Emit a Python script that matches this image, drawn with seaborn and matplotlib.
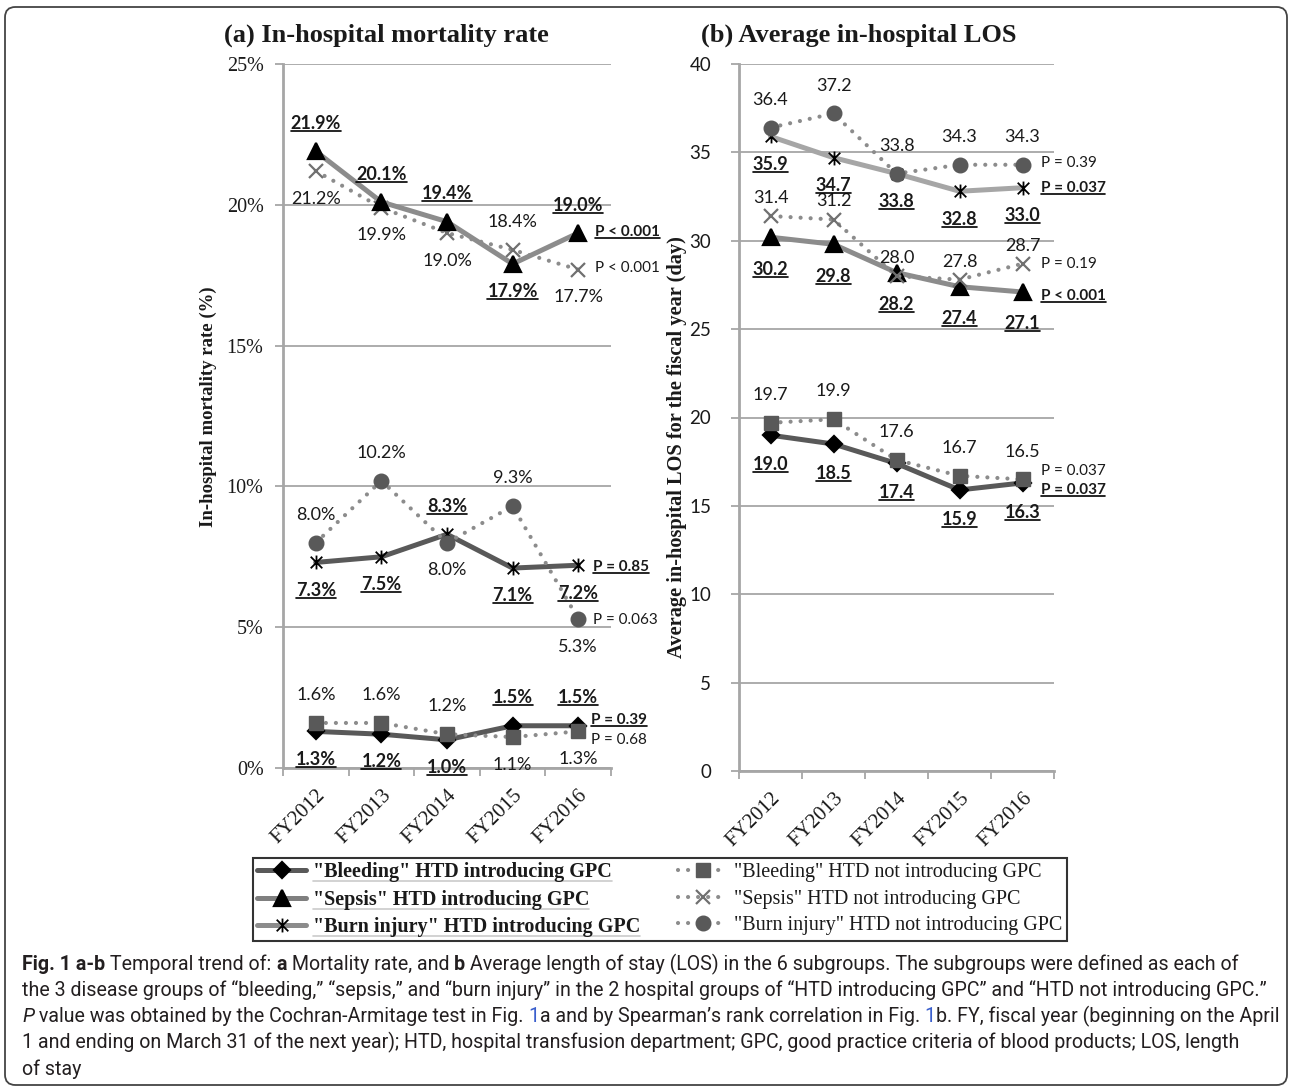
import numpy as np
import seaborn as sns
import matplotlib.pyplot as plt
from matplotlib.path import Path
from matplotlib.lines import Line2D
from matplotlib.patches import FancyBboxPatch
from matplotlib.ticker import FuncFormatter
from matplotlib import font_manager

years = ["FY2012", "FY2013", "FY2014", "FY2015", "FY2016"]

# (a) in-hospital mortality rate (%)
mort_bleed_gpc = [1.3, 1.2, 1.0, 1.5, 1.5]
mort_bleed_non = [1.6, 1.6, 1.2, 1.1, 1.3]
mort_sepsis_gpc = [21.9, 20.1, 19.4, 17.9, 19.0]
mort_sepsis_non = [21.2, 19.9, 19.0, 18.4, 17.7]
mort_burn_gpc = [7.3, 7.5, 8.3, 7.1, 7.2]
mort_burn_non = [8.0, 10.2, 8.0, 9.3, 5.3]

# (b) average in-hospital LOS (days)
los_bleed_gpc = [19.0, 18.5, 17.4, 15.9, 16.3]
los_bleed_non = [19.7, 19.9, 17.6, 16.7, 16.5]
los_sepsis_gpc = [30.2, 29.8, 28.2, 27.4, 27.1]
los_sepsis_non = [31.4, 31.2, 28.0, 27.8, 28.7]
los_burn_gpc = [35.9, 34.7, 33.8, 32.8, 33.0]
los_burn_non = [36.4, 37.2, 33.8, 34.3, 34.3]

# p values
p_mort = ["P = 0.39", "P = 0.68", "P < 0.001", "P < 0.001", "P = 0.85", "P = 0.063"]
p_los = ["P = 0.037", "P = 0.037", "P < 0.001", "P = 0.19", "P = 0.037", "P = 0.39"]

legend_labels = ['"Bleeding" HTD introducing GPC', '"Sepsis" HTD introducing GPC',
                 '"Burn injury" HTD introducing GPC', '"Bleeding" HTD not introducing GPC',
                 '"Sepsis" HTD not introducing GPC', '"Burn injury" HTD not introducing GPC']

W, H = 1292, 1090
SERIF = "Liberation Serif"
SANS = "Lato"
GRID = "#a6a6a6"
TXT = "#1a1a1a"

sns.set_style("white")
plt.rcParams["font.family"] = [SERIF, "DejaVu Serif"]

star = Path([(-1, -1), (1, 1), (-1, 1), (1, -1), (0, -1.2), (0, 1.2)],
            [Path.MOVETO, Path.LINETO, Path.MOVETO, Path.LINETO, Path.MOVETO, Path.LINETO])

def solid(lc, m, ms, mew=1.6):
    return dict(color=lc, linewidth=3.6, linestyle="-", marker=m, markersize=ms,
                markerfacecolor="black", markeredgecolor="black", markeredgewidth=mew,
                solid_joinstyle="round")

def dotted(m, mc, ms, mew=1.0):
    return dict(color="#8c8c8c", linewidth=3.0, linestyle=(0, (0.01, 2.4)),
                dash_capstyle="round", marker=m, markersize=ms, markerfacecolor=mc,
                markeredgecolor=mc, markeredgewidth=mew)

st_bleed_gpc = solid("#595959", "D", 8.5)
st_sepsis_gpc_a = solid("#8c8c8c", "^", 11)
st_burn_gpc_a = solid("#595959", star, 10, 1.3)
st_sepsis_gpc_b = solid("#8c8c8c", "^", 11)
st_burn_gpc_b = solid("#a6a6a6", star, 10, 1.3)
st_bleed_non = dotted("s", "#595959", 10.5)
st_sepsis_non = dotted("x", "#707070", 9.5, 1.6)
st_burn_non = dotted("o", "#595959", 10.5)

fig = plt.figure(figsize=(W / 100, H / 100), dpi=100)
axa = fig.add_axes([283 / W, 1 - 768 / H, (611 - 283) / W, (768 - 64) / H])
axb = fig.add_axes([739 / W, 1 - 771 / H, (1054 - 739) / W, (771 - 64) / H])
xpos = np.arange(len(years))
underline = []

def style_axes(ax, ymax, step, fmt, yfont, yfs, ypad):
    ax.set_xlim(-0.5, 4.5)
    ax.set_ylim(0, ymax)
    ax.set_yticks(np.arange(0, ymax + 0.01, step))
    ax.yaxis.set_major_formatter(FuncFormatter(fmt))
    ax.set_xticks(xpos)
    ax.set_xticklabels(years, rotation=45, ha="right", rotation_mode="anchor",
                       fontsize=15, family=SERIF, color=TXT)
    ax.set_xticks(np.arange(-0.5, 5, 1), minor=True)
    ax.tick_params(axis="x", which="major", bottom=True, length=0, pad=13)
    ax.tick_params(axis="x", which="minor", bottom=True, length=6, width=1.3,
                   color=GRID, direction="out")
    ax.tick_params(axis="y", left=True, length=6, width=1.3, color=GRID,
                   direction="out", pad=ypad, labelcolor=TXT)
    for lab in ax.get_yticklabels():
        lab.set_family(yfont)
        lab.set_fontsize(yfs)
    ax.grid(axis="y", color=GRID, lw=1.3)
    ax.grid(axis="x", visible=False)
    for s in ["top", "right"]:
        ax.spines[s].set_visible(False)
    for s in ["left", "bottom"]:
        ax.spines[s].set_color(GRID)
        ax.spines[s].set_linewidth(2)
    ax.set_axisbelow(True)
    ax.set_xlabel("")
    ax.set_ylabel("")

def draw(ax, vals, st, sides, gpc, fmt, ptxt, pdx, pdy, off=20):
    sns.lineplot(x=xpos, y=vals, ax=ax, errorbar=None, sort=False, **st)
    for i, (v, s) in enumerate(zip(vals, sides)):
        t = ax.annotate(fmt.format(v), (i, v), xytext=(0, s * off), textcoords="offset points",
                        ha="center", va="center", fontsize=13, family=SANS,
                        weight="bold" if gpc else "normal", color=TXT)
        if gpc:
            underline.append(t)
    t = ax.annotate(ptxt, (4, vals[-1]), xytext=(pdx, pdy), textcoords="offset points",
                    ha="left", va="center", fontsize=11, family=SANS,
                    weight="bold" if gpc else "normal", color=TXT)
    if gpc:
        underline.append(t)

# panel (a)
fa = "{:.1f}%"
draw(axa, mort_bleed_gpc, st_bleed_gpc, [-1, -1, -1, 1, 1], True, fa, p_mort[0], 9, 4)
draw(axa, mort_bleed_non, st_bleed_non, [1, 1, 1, -1, -1], False, fa, p_mort[1], 9, -6)
draw(axa, mort_sepsis_non, st_sepsis_non, [-1, -1, -1, 1, -1], False, fa, p_mort[3], 12, 1)
draw(axa, mort_sepsis_gpc, st_sepsis_gpc_a, [1, 1, 1, -1, 1], True, fa, p_mort[2], 12, 1)
draw(axa, mort_burn_gpc, st_burn_gpc_a, [-1, -1, 1, -1, -1], True, fa, p_mort[4], 11, -1)
draw(axa, mort_burn_non, st_burn_non, [1, 1, -1, 1, -1], False, fa, p_mort[5], 11, -1)
style_axes(axa, 25, 5, lambda v, p: f"{v:.0f}%", SERIF, 14.5, 8)

# panel (b)
fb = "{:.1f}"
draw(axb, los_bleed_gpc, st_bleed_gpc, [-1] * 5, True, fb, p_los[0], 13, -5, 21)
draw(axb, los_bleed_non, st_bleed_non, [1] * 5, False, fb, p_los[1], 13, 6)
draw(axb, los_sepsis_gpc, st_sepsis_gpc_b, [-1] * 5, True, fb, p_los[2], 13, -3, 23)
draw(axb, los_sepsis_non, st_sepsis_non, [1] * 5, False, fb, p_los[3], 13, 0, 13)
draw(axb, los_burn_gpc, st_burn_gpc_b, [-1] * 5, True, fb, p_los[4], 13, 0)
draw(axb, los_burn_non, st_burn_non, [1] * 5, False, fb, p_los[5], 13, 1)
style_axes(axb, 40, 5, lambda v, p: f"{v:.0f}", SANS, 13.5, 14)

# titles and axis labels
fig.text(386 / W, 1 - 35 / H, "(a) In-hospital mortality rate", ha="center", va="center",
         fontsize=19, weight="bold", family=SERIF, color=TXT)
fig.text(859 / W, 1 - 35 / H, "(b) Average in-hospital LOS", ha="center", va="center",
         fontsize=19, weight="bold", family=SERIF, color=TXT)
fig.text(208 / W, 1 - 407 / H, "In-hospital mortality rate (%)", rotation=90, ha="center",
         va="center", fontsize=13.5, weight="bold", family=SERIF, color=TXT)
fig.text(677 / W, 1 - 447 / H, "Average in-hospital LOS for the fiscal year (day)", rotation=90,
         ha="center", va="center", fontsize=14.7, weight="bold", family=SERIF, color=TXT)

# legend
leg_styles = [st_bleed_gpc, solid("#7f7f7f", "^", 11), solid("#8c8c8c", star, 10, 1.3),
              st_bleed_non, st_sepsis_non, st_burn_non]
handles = [Line2D([], [], **s) for s in leg_styles]
leg = fig.legend(handles, legend_labels, ncol=2, loc="upper left",
                 bbox_to_anchor=(253 / W, 1 - 858 / H), bbox_transform=fig.transFigure,
                 frameon=True, fancybox=False, edgecolor="black", borderaxespad=0,
                 prop=dict(family=SERIF, size=14.5), handlelength=2.4, handletextpad=0.35,
                 columnspacing=1.9, labelspacing=0.36, borderpad=0.22, numpoints=1)
leg.get_frame().set_linewidth(1.5)
for i, t in enumerate(leg.get_texts()):
    t.set_color(TXT)
    if i < 3:
        t.set_fontweight("bold")
        underline.append(t)

# caption
r = fig.canvas.get_renderer()
names = {f.name for f in font_manager.fontManager.ttflist}
CAP = "Liberation Sans Narrow" if "Liberation Sans Narrow" in names else "Roboto"

def width(s, **kw):
    a = fig.text(0, 0, "|" + s + "|", **kw)
    b = fig.text(0, 0, "||", **kw)
    w = a.get_window_extent(r).width - b.get_window_extent(r).width
    a.remove()
    b.remove()
    return w

REG = dict()
BOLD = dict(weight="bold")
ITAL = dict(style="italic")
BLUE = dict(color="#3a5fcd")
caption = [
    [("Fig. 1 a-b", BOLD), (" Temporal trend of: ", REG), ("a", BOLD), (" Mortality rate, and ", REG),
     ("b", BOLD), (" Average length of stay (LOS) in the 6 subgroups. The subgroups were defined as each of", REG)],
    [("the 3 disease groups of \u201cbleeding,\u201d \u201csepsis,\u201d and \u201cburn injury\u201d in the 2 hospital "
      "groups of \u201cHTD introducing GPC\u201d and \u201cHTD not introducing GPC.\u201d", REG)],
    [("P", ITAL), (" value was obtained by the Cochran-Armitage test in Fig. ", REG), ("1", BLUE),
     ("a and by Spearman\u2019s rank correlation in Fig. ", REG), ("1", BLUE),
     ("b. FY, fiscal year (beginning on the April", REG)],
    [("1 and ending on March 31 of the next year); HTD, hospital transfusion department; GPC, good practice "
      "criteria of blood products; LOS, length", REG)],
    [("of stay", REG)],
]
base = sum(width(s, family=CAP, fontsize=12, **k) for s, k in caption[2])
cfs = 12 * 1252 / base
for li, line in enumerate(caption):
    x = 22
    y = 964 + 26.2 * li
    for s, k in line:
        kw = dict(family=CAP, fontsize=cfs, color="#231f20")
        kw.update(k)
        fig.text(x / W, 1 - y / H, s, ha="left", va="center", **kw)
        x += width(s, **kw)

# outer frame
fig.add_artist(FancyBboxPatch((5 / W, 5 / H), 1282 / W, 1078 / H, transform=fig.transFigure,
                              boxstyle="round,pad=0,rounding_size=0.008", mutation_aspect=W / H,
                              fill=False, edgecolor="#444444", lw=1.3))

# underline bold labels
fig.canvas.draw()
r = fig.canvas.get_renderer()
inv = fig.transFigure.inverted()
for t in underline:
    bb = t.get_window_extent(r)
    (x0, y0), (x1, _) = inv.transform([[bb.x0, bb.y0 + 1], [bb.x1, bb.y1]])
    fig.add_artist(Line2D([x0, x1], [y0, y0], transform=fig.transFigure, color="black", lw=1.2))

fig.savefig("out.png", dpi=100)
